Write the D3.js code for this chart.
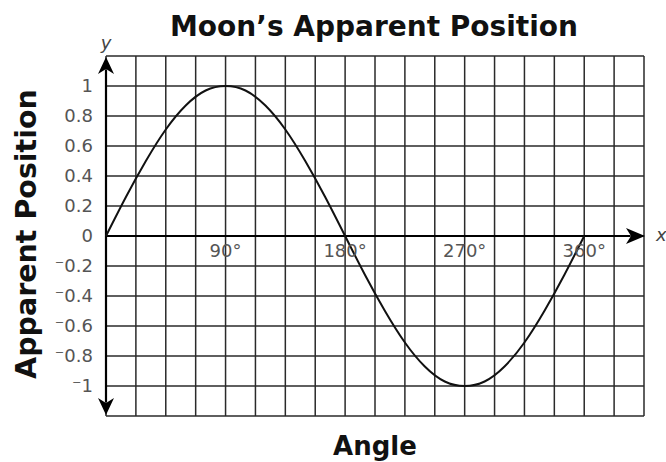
<!DOCTYPE html>
<html><head><meta charset="utf-8">
<script src="https://cdn.jsdelivr.net/npm/d3@7"></script>
<style>html,body{margin:0;padding:0;background:#fff;}svg{display:block;}</style>
</head><body>
<svg id="c" width="666" height="462"></svg>
<script>
// Data
const angles = [0,15,30,45,60,75,90,105,120,135,150,165,180,195,210,225,240,255,270,285,300,315,330,345,360];
const positions = [0,0.26,0.5,0.71,0.87,0.97,1,0.97,0.87,0.71,0.5,0.26,0,-0.26,-0.5,-0.71,-0.87,-0.97,-1,-0.97,-0.87,-0.71,-0.5,-0.26,0];
const yTicks = [1,0.8,0.6,0.4,0.2,0,-0.2,-0.4,-0.6,-0.8,-1];
const yTickLabels = ["1","0.8","0.6","0.4","0.2","0","\u207B0.2","\u207B0.4","\u207B0.6","\u207B0.8","\u207B1"];
const xTicks = [90,180,270,360];
const xTickLabels = ["90°","180°","270°","360°"];
const xGrid = d3.range(0, 405.1, 22.5);
const yGrid = d3.range(-1.2, 1.21, 0.2);

const svg = d3.select("#c");
const x = d3.scaleLinear().domain([0,405]).range([106,644]);
const y = d3.scaleLinear().domain([-1.2,1.2]).range([416,56]);

const grid = svg.append("g").attr("stroke","#2a2a2a").attr("stroke-width",1.5);
grid.selectAll(".v").data(xGrid).join("line")
  .attr("x1",d=>x(d)).attr("x2",d=>x(d)).attr("y1",y(1.2)).attr("y2",y(-1.2));
grid.selectAll(".h").data(yGrid).join("line")
  .attr("x1",x(0)).attr("x2",x(405)).attr("y1",d=>y(d)).attr("y2",d=>y(d));

// axes
const ax = svg.append("g").attr("stroke","#000").attr("stroke-width",2.2);
ax.append("line").attr("x1",x(0)).attr("x2",x(405)-14).attr("y1",y(0)).attr("y2",y(0));
ax.append("line").attr("x1",x(0)).attr("x2",x(0)).attr("y1",y(1.2)+14).attr("y2",y(-1.2)-14);
// arrowheads
svg.append("path").attr("fill","#000")
  .attr("d",`M${x(405)+1},${y(0)} L${x(405)-18},${y(0)-8} L${x(405)-13},${y(0)} L${x(405)-18},${y(0)+8}Z`);
svg.append("path").attr("fill","#000")
  .attr("d",`M${x(0)},${y(1.2)+1} L${x(0)-8},${y(1.2)+18} L${x(0)},${y(1.2)+13} L${x(0)+8},${y(1.2)+18}Z`);
svg.append("path").attr("fill","#000")
  .attr("d",`M${x(0)},${y(-1.2)-1} L${x(0)-8},${y(-1.2)-18} L${x(0)},${y(-1.2)-13} L${x(0)+8},${y(-1.2)-18}Z`);

// curve
const line = d3.line().x((d,i)=>x(angles[i])).y(d=>y(d)).curve(d3.curveNatural);
svg.append("path").datum(positions).attr("d",line)
  .attr("fill","none").attr("stroke","#111").attr("stroke-width",2);

const font = "DejaVu Sans, Verdana, sans-serif";
// y tick labels
svg.append("g").selectAll("text").data(yTicks).join("text")
  .attr("x",93).attr("y",d=>y(d)).attr("dy","0.36em")
  .attr("text-anchor","end").attr("font-family",font).attr("font-size",18)
  .attr("fill","#555").text((d,i)=>yTickLabels[i]);
// x tick labels
svg.append("g").selectAll("text").data(xTicks).join("text")
  .attr("x",d=>x(d)).attr("y",y(0)+21)
  .attr("text-anchor","middle").attr("font-family",font).attr("font-size",18)
  .attr("fill","#555").text((d,i)=>xTickLabels[i]);

// titles
svg.append("text").attr("x",374).attr("y",36).attr("text-anchor","middle")
  .attr("font-family",font).attr("font-weight","bold").attr("font-size",28)
  .attr("fill","#111").text("Moon’s Apparent Position");
svg.append("text").attr("x",375).attr("y",455).attr("text-anchor","middle")
  .attr("font-family",font).attr("font-weight","bold").attr("font-size",26)
  .attr("fill","#111").text("Angle");
svg.append("text").attr("transform","translate(36,234) rotate(-90)").attr("text-anchor","middle")
  .attr("font-family",font).attr("font-weight","bold").attr("font-size",28.5)
  .attr("fill","#111").text("Apparent Position");
svg.append("text").attr("x",106).attr("y",49).attr("text-anchor","middle")
  .attr("font-family",font).attr("font-style","italic").attr("font-size",18)
  .attr("fill","#444").text("y");
svg.append("text").attr("x",656).attr("y",y(0)+5).attr("text-anchor","start")
  .attr("font-family",font).attr("font-style","italic").attr("font-size",18)
  .attr("fill","#444").text("x");
</script>
</body></html>
